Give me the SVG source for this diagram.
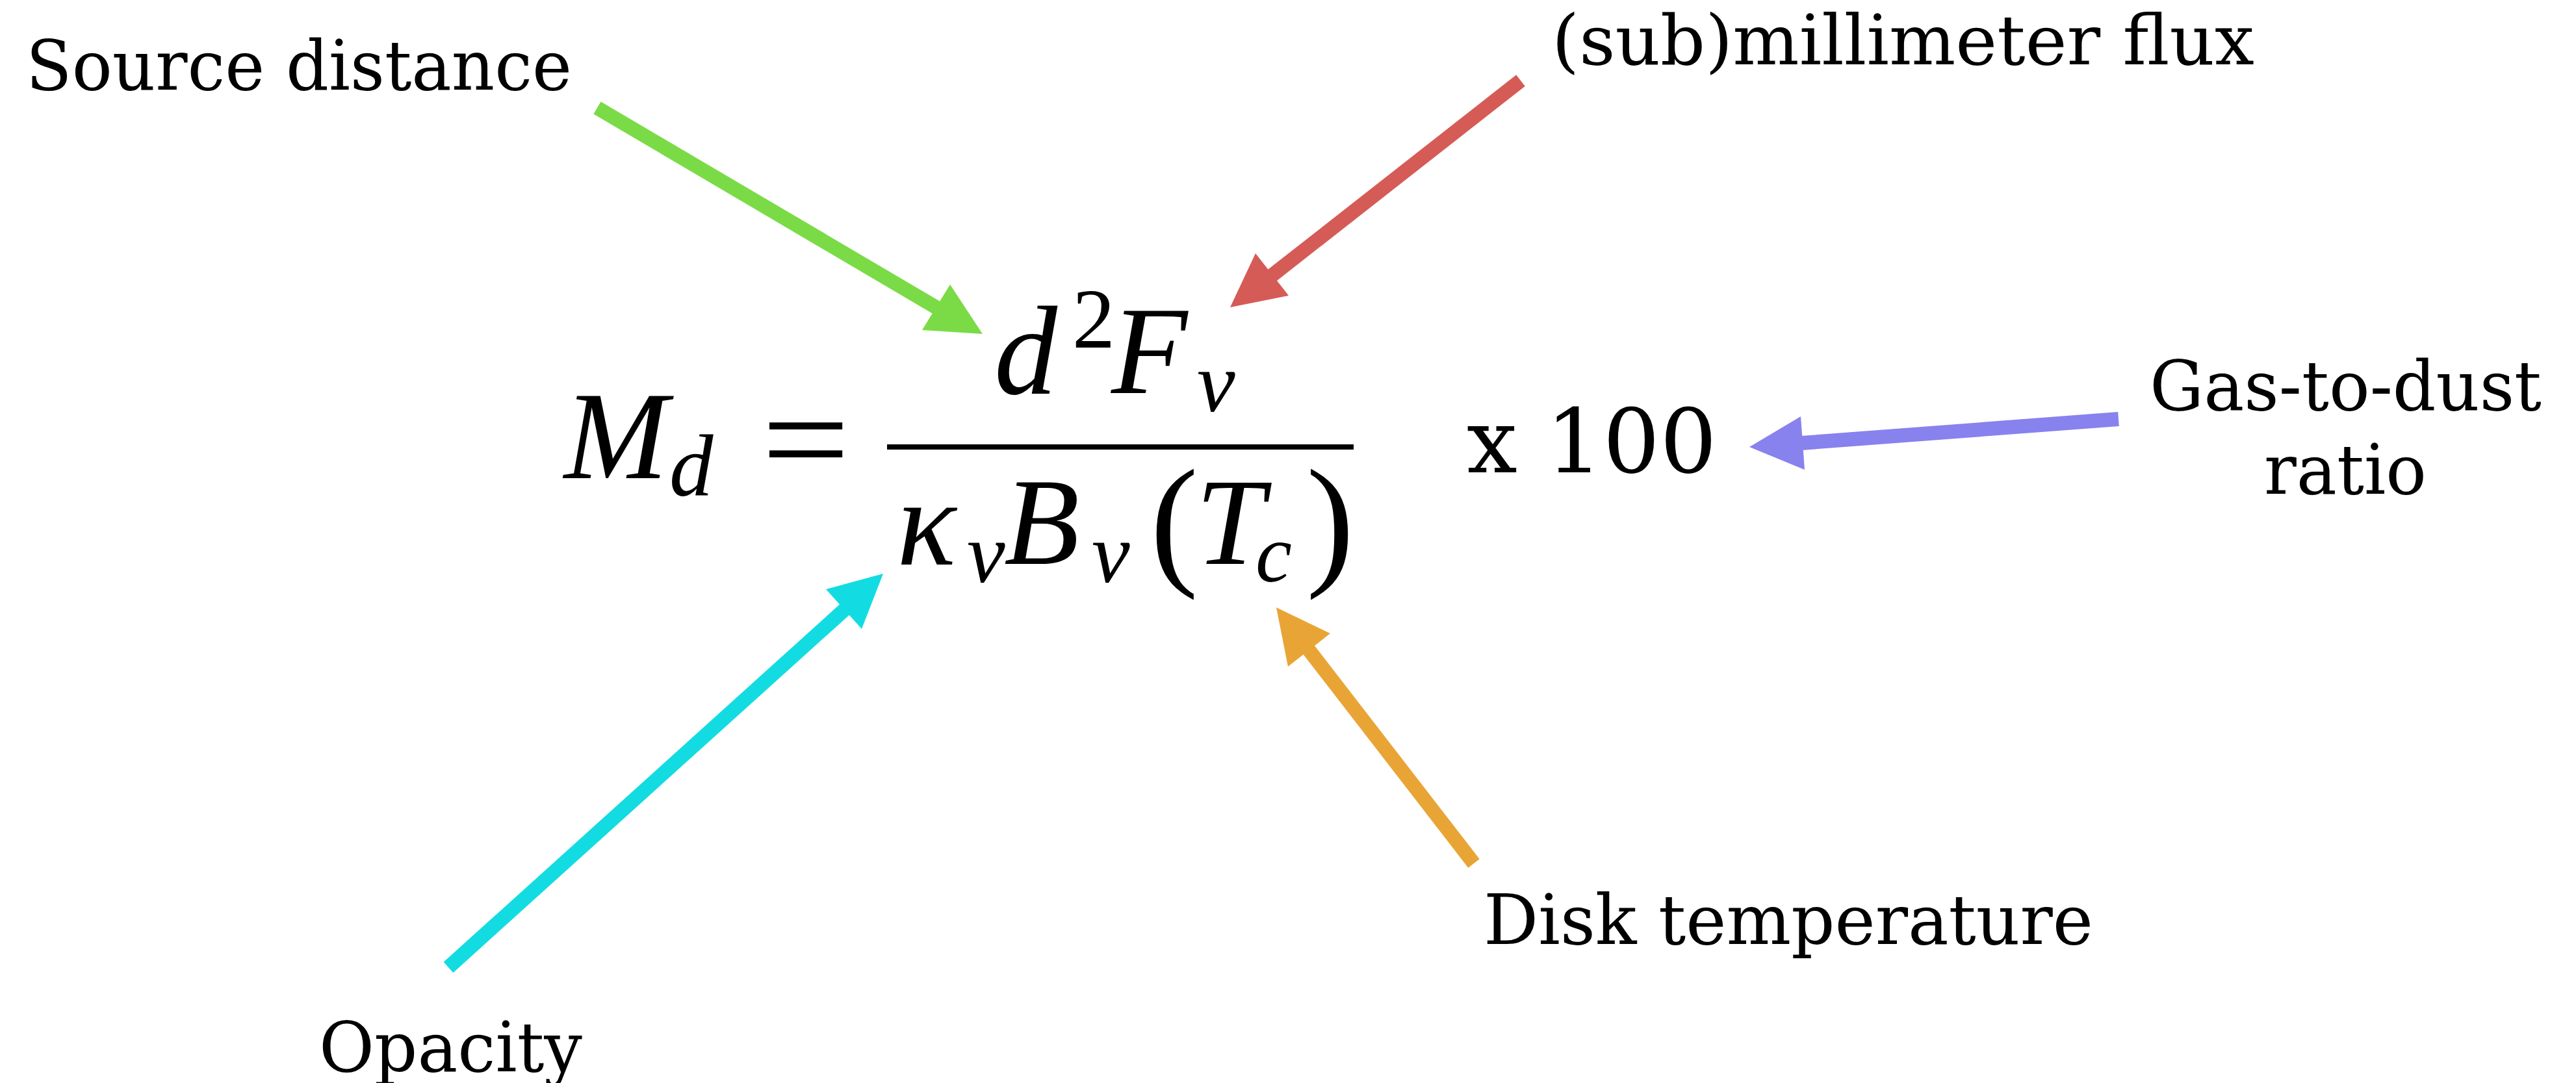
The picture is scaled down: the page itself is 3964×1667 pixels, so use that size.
<svg xmlns="http://www.w3.org/2000/svg" width="3964" height="1667" viewBox="0 0 3964 1667">
<style>
.lbl{font-family:"DejaVu Serif","Liberation Serif",serif;font-size:106px;fill:#000}
.mi{font-family:"Liberation Serif","Times New Roman",serif;font-style:italic;fill:#000}
.mu{font-family:"Liberation Serif","Times New Roman",serif;fill:#000}
.shaft{stroke-width:22;stroke-linecap:butt;fill:none}
</style>
<rect width="3964" height="1667" fill="#fff"/>
<g id="formula">
<text class="mi" x="868" y="736" font-size="192">M</text>
<text class="mi" x="1030" y="763" font-size="135">d</text>
<text class="mu" x="1172" y="748" font-size="215" textLength="136" lengthAdjust="spacingAndGlyphs">=</text>
<rect x="1365" y="684" width="718" height="8" fill="#000"/>
<text class="mi" x="1530" y="606" font-size="194">d</text>
<text class="mu" x="1650" y="535" font-size="132">2</text>
<text class="mi" x="1710" y="605" font-size="192">F</text>
<text class="mi" x="1842" y="633" font-size="132">ν</text>
<text class="mi" x="1380" y="869" font-size="190">κ</text>
<text class="mi" x="1488" y="896" font-size="132">ν</text>
<text class="mi" x="1545" y="868" font-size="190">B</text>
<text class="mi" x="1680" y="896" font-size="132">ν</text>
<text class="mu" x="1770" y="876" font-size="222">(</text>
<text class="mi" x="1840" y="868" font-size="190">T</text>
<text class="mi" x="1932" y="895" font-size="126">c</text>
<text class="mu" x="2010" y="876" font-size="222">)</text>
<text class="lbl" x="2257" y="727" style="font-size:136px" textLength="385" lengthAdjust="spacingAndGlyphs">x 100</text>
</g>
<g id="source-distance"><text class="lbl" x="40" y="138" textLength="840" lengthAdjust="spacingAndGlyphs">Source distance</text></g>
<g id="submm-flux"><text class="lbl" x="2388" y="99" textLength="1081" lengthAdjust="spacingAndGlyphs">(sub)millimeter flux</text></g>
<g id="gas-to-dust"><text class="lbl" x="3308" y="631" textLength="603" lengthAdjust="spacingAndGlyphs">Gas-to-dust</text><text class="lbl" x="3484" y="760" textLength="250" lengthAdjust="spacingAndGlyphs">ratio</text></g>
<g id="opacity"><text class="lbl" x="491" y="1649" textLength="405" lengthAdjust="spacingAndGlyphs">Opacity</text></g>
<g id="disk-temperature"><text class="lbl" x="2283" y="1453" textLength="938" lengthAdjust="spacingAndGlyphs">Disk temperature</text></g>
<g id="connectors">
<line class="shaft" stroke="#7BDB47" x1="919" y1="166" x2="1442" y2="474"/>
<polygon fill="#7BDB47" points="1512,514 1462,438 1419,508"/>
<line class="shaft" stroke="#D55B56" x1="2340" y1="124" x2="1956" y2="425"/>
<polygon fill="#D55B56" points="1893,473 1932,390 1983,455"/>
<line class="shaft" stroke="#12DCE2" x1="690" y1="1489" x2="1300" y2="938"/>
<polygon fill="#12DCE2" points="1359,883 1271,907 1326,968"/>
<line class="shaft" stroke="#E8A535" x1="2268" y1="1329" x2="2013" y2="999"/>
<polygon fill="#E8A535" points="1964,935 2047,975 1982,1026"/>
<line class="shaft" stroke="#8882EE" x1="3260" y1="645" x2="2772" y2="682"/>
<polygon fill="#8882EE" points="2692,688 2771,641 2777,723"/>
</g>
</svg>
